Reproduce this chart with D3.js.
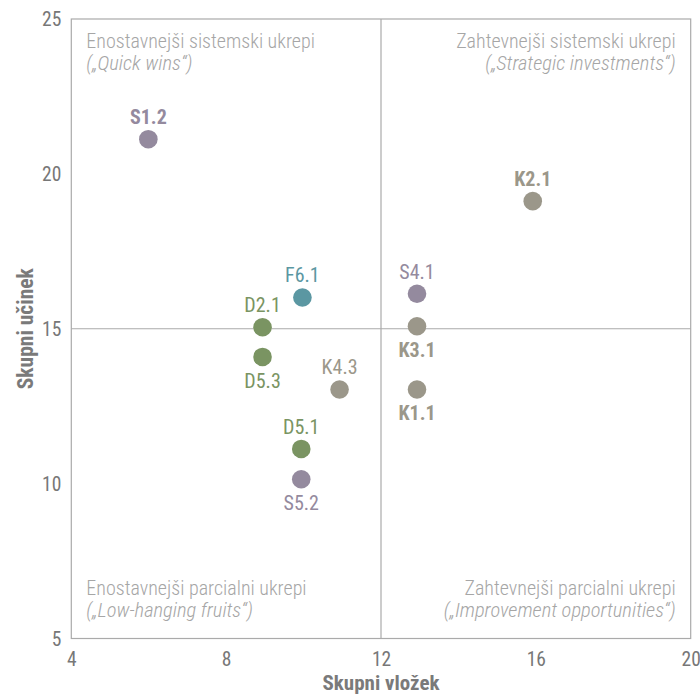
<!DOCTYPE html>
<html>
<head>
<meta charset="utf-8">
<script src="https://cdn.jsdelivr.net/npm/d3@7"></script>
<style>
  html, body { margin: 0; padding: 0; background: #fff; }
  svg { display: block; }
  text { font-family: "Roboto Condensed", "Liberation Sans Narrow", Roboto, sans-serif; }
</style>
</head>
<body>
<svg id="chart" width="700" height="694"></svg>
<script>
// ---- data ----
const labels  = ["S1.2", "K2.1", "F6.1", "D2.1", "D5.3", "K4.3", "D5.1", "S5.2", "S4.1", "K3.1", "K1.1"];
const effort  = [5.99, 15.92, 9.97, 8.94, 8.94, 10.93, 9.94, 9.94, 12.93, 12.93, 12.93];
const impact  = [21.12, 19.12, 16.01, 15.05, 14.09, 13.04, 11.12, 10.14, 16.13, 15.08, 13.04];
const groups  = ["S", "K", "F", "D", "D", "K", "D", "S", "S", "K", "K"];
const labelPos = ["above", "above", "above", "above", "below", "above", "above", "below", "above", "below", "below"];
const labelBold = [true, true, false, false, false, false, false, false, false, true, true];

const xTicks = [4, 8, 12, 16, 20];
const yTicks = [5, 10, 15, 20, 25];
const xDomain = [4, 20];
const yDomain = [5, 25];
const xSplit = 12;
const ySplit = 15;
const xTitle = "Skupni vložek";
const yTitle = "Skupni učinek";

const quadrantTitles = [
  { q: "tl", main: "Enostavnejši sistemski ukrepi", sub: "(„Quick wins“)" },
  { q: "tr", main: "Zahtevnejši sistemski ukrepi", sub: "(„Strategic investments“)" },
  { q: "bl", main: "Enostavnejši parcialni ukrepi", sub: "(„Low-hanging fruits“)" },
  { q: "br", main: "Zahtevnejši parcialni ukrepi", sub: "(„Improvement opportunities“)" }
];

const groupColors = { S: "#948a9e", K: "#9b978a", F: "#5b97a2", D: "#7a9462" };

// ---- layout ----
const svg = d3.select("#chart");
const pL = 71.3, pR = 690.7, pT = 19, pB = 638.5;

const x = d3.scaleLinear().domain(xDomain).range([pL, pR]);
const y = d3.scaleLinear().domain(yDomain).range([pB, pT]);

// frame
svg.append("rect")
  .attr("x", pL).attr("y", pT)
  .attr("width", pR - pL).attr("height", pB - pT)
  .attr("fill", "none").attr("stroke", "#aaaaaa").attr("stroke-width", 1.2);

// split lines
svg.append("line")
  .attr("x1", x(xSplit)).attr("x2", x(xSplit))
  .attr("y1", pT).attr("y2", pB)
  .attr("stroke", "#aaaaaa").attr("stroke-width", 1.2);
svg.append("line")
  .attr("x1", pL).attr("x2", pR)
  .attr("y1", y(ySplit)).attr("y2", y(ySplit))
  .attr("stroke", "#aaaaaa").attr("stroke-width", 1.2);

// axes (tick labels only)
const xAxis = d3.axisBottom(x).tickValues(xTicks).tickSize(0).tickPadding(0).tickFormat(d3.format("d"));
const gx = svg.append("g").attr("transform", `translate(0,${pB})`).call(xAxis);
gx.attr("font-family", null).attr("font-size", null);
gx.select(".domain").remove();
gx.selectAll("text")
  .attr("dy", null).attr("y", 27.5)
  .attr("font-size", 19.5).attr("fill", "#777777");

const yAxis = d3.axisLeft(y).tickValues(yTicks).tickSize(0).tickPadding(0).tickFormat(d3.format("d"));
const gy = svg.append("g").attr("transform", `translate(${pL},0)`).call(yAxis);
gy.attr("font-family", null).attr("font-size", null);
gy.select(".domain").remove();
gy.selectAll("text")
  .attr("x", -10).attr("dy", "0.35em")
  .attr("font-size", 19.5).attr("fill", "#777777");

// axis titles
svg.append("text")
  .attr("x", (pL + pR) / 2).attr("y", 690)
  .attr("text-anchor", "middle")
  .attr("font-size", 21).attr("font-weight", "bold").attr("fill", "#7a7a7a")
  .text(xTitle);
svg.append("text")
  .attr("transform", `translate(33,${y(ySplit)}) rotate(-90)`)
  .attr("text-anchor", "middle")
  .attr("font-size", 21.5).attr("font-weight", "bold").attr("fill", "#7a7a7a")
  .text(yTitle);

// quadrant titles
quadrantTitles.forEach(d => {
  const isLeft = d.q[1] === "l";
  const isTop = d.q[0] === "t";
  const tx = isLeft ? pL + 15 : pR - 15;
  const ty1 = isTop ? pT + 29 : pB - 43.5;
  const t = svg.append("text")
    .attr("text-anchor", isLeft ? "start" : "end")
    .attr("font-weight", 300).attr("fill", "#a6a6a6");
  t.append("tspan").attr("x", tx).attr("y", ty1).attr("font-size", 20).text(d.main);
  t.append("tspan").attr("x", tx).attr("y", ty1 + 22).attr("font-size", 20.5).attr("font-style", "italic").text(d.sub);
});

// points
const pts = labels.map((l, i) => ({ label: l, ex: effort[i], im: impact[i], g: groups[i], pos: labelPos[i], bold: labelBold[i] }));

svg.append("g").selectAll("circle").data(pts).join("circle")
  .attr("cx", d => x(d.ex)).attr("cy", d => y(d.im))
  .attr("r", 9.3)
  .attr("fill", d => groupColors[d.g]);

svg.append("g").selectAll("text").data(pts).join("text")
  .attr("x", d => x(d.ex))
  .attr("y", d => y(d.im) + (d.pos === "above" ? -15 : 31))
  .attr("text-anchor", "middle")
  .attr("font-size", 20)
  .attr("font-weight", d => d.bold ? "bold" : "normal")
  .attr("fill", d => groupColors[d.g])
  .text(d => d.label);
</script>
</body>
</html>
